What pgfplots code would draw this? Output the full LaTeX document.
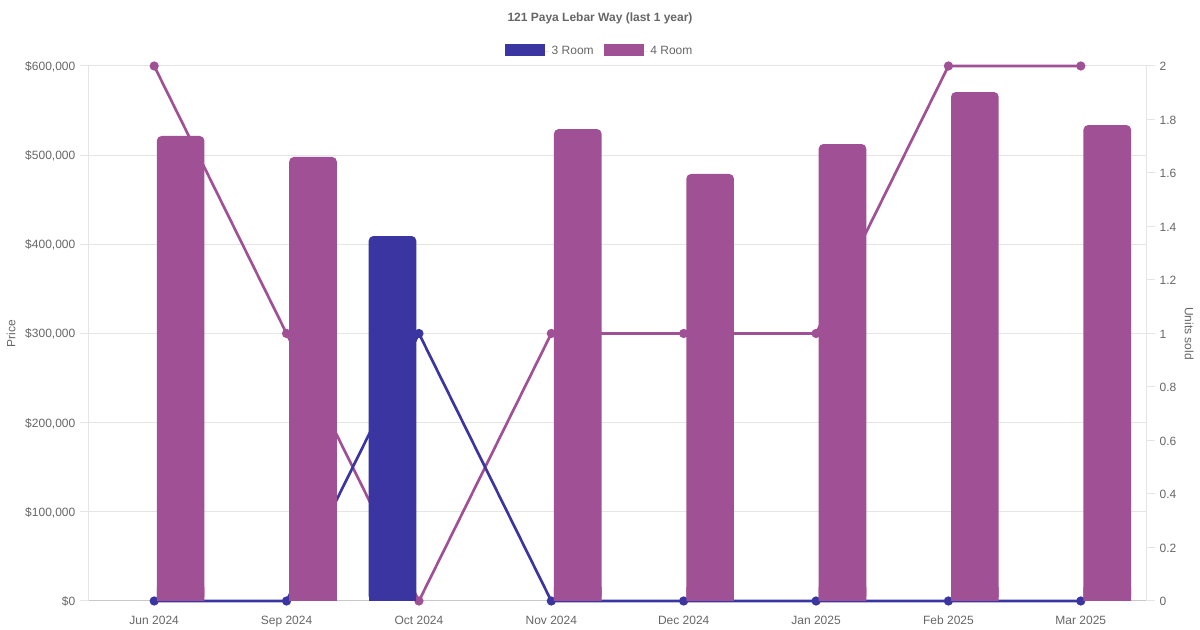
\documentclass[border=0pt]{standalone}
\usepackage{pgfplots}
\pgfplotsset{compat=1.18}
\usepackage{fontspec}
\setmainfont{Liberation Sans}
\definecolor{cA}{RGB}{58,53,160}
\definecolor{cB}{RGB}{160,80,148}
\definecolor{ctext}{RGB}{102,102,102}
\definecolor{cgrid}{RGB}{229,229,229}
\definecolor{cbase}{RGB}{200,200,200}
\pgfplotstableread{
x y
2 409300
}\roomthree
\pgfplotstableread{
x y
0 521500
1 498000
3 529300
4 478900
5 512500
6 570800
7 533800
}\roomfour
\pgfplotstableread{
x three four
0 0 2
1 0 1
2 1 0
3 0 1
4 0 1
5 0 1
6 0 2
7 0 2
}\units
\pgfplotsset{
  base/.style={
    scale only axis, width=794.25pt, height=401.25pt,
    at={(66pt,21.75pt)}, anchor=south west,
    xmin=-0.5, xmax=7.5,
    /pgf/number format/assume math mode=true,
    tick label style={font=\fontsize{9}{11}\selectfont, text=ctext},
    label style={font=\fontsize{9}{11}\selectfont, text=ctext},
  }
}
\begin{document}
\begin{tikzpicture}
\path[use as bounding box] (0,0) rectangle (900pt,472.5pt);
\node[font=\bfseries\fontsize{9}{11}\selectfont, text=ctext] at (450pt,459pt) {121 Paya Lebar Way (last 1 year)};
% grid and left axis
\begin{axis}[base,
  ymin=0, ymax=600000,
  axis y line*=left, axis x line*=bottom,
  x axis line style={draw=cbase, line width=0.75pt},
  y axis line style={draw=cgrid, line width=0.75pt},
  xtick={0,...,7},
  xticklabels={Jun 2024,Sep 2024,Oct 2024,Nov 2024,Dec 2024,Jan 2025,Feb 2025,Mar 2025},
  x tick style={draw=none},
  ytick={0,100000,200000,300000,400000,500000,600000},
  yticklabels={{\$0},{\$100,000},{\$200,000},{\$300,000},{\$400,000},{\$500,000},{\$600,000}},
  y tick style={draw=cgrid, line width=0.75pt},
  tick align=outside, major tick length=6pt,
  ymajorgrids, major grid style={draw=cgrid, line width=0.75pt},
  scaled y ticks=false,
  xticklabel style={yshift=-1.5pt},
  yticklabel style={yshift=-0.6pt},
  ylabel={Price},
  ylabel style={at={(axis description cs:-0.0727,0.5)}, anchor=center, rotate=0},
]
\end{axis}
% right axis with lines
\begin{axis}[base,
  ymin=0, ymax=2,
  axis y line*=right, axis x line=none,
  y axis line style={draw=cgrid, line width=0.75pt},
  ytick={0,0.2,0.4,0.6,0.8,1,1.2,1.4,1.6,1.8,2},
  yticklabels={0,0.2,0.4,0.6,0.8,1,1.2,1.4,1.6,1.8,2},
  y tick style={draw=cgrid, line width=0.75pt},
  yticklabel style={yshift=-0.6pt},
  tick align=outside, major tick length=6pt,
  xtick=\empty,
  clip=false,
  ylabel={Units sold},
  ylabel style={at={(axis description cs:1.0397,0.5)}, anchor=center, rotate=180},
]
\addplot[draw=cB, line width=2pt, mark=*, mark size=2.4pt, mark options={fill=cB, draw=cB}] table[x=x, y=four] {\units};
\addplot[draw=cA, line width=2pt, mark=*, mark size=2.4pt, mark options={fill=cA, draw=cA}] table[x=x, y=three] {\units};
\end{axis}
% bars
\begin{axis}[base,
  ymin=0, ymax=600000,
  axis lines=none, xtick=\empty, ytick=\empty,
  ybar=3.97pt, bar width=35.7pt,
  legend style={at={(axis description cs:0.4835,1.027)}, anchor=center, draw=none, fill=none,
    font=\fontsize{9}{11}\selectfont, text=ctext, legend columns=2,
    /tikz/every even column/.append style={column sep=5.5pt}},
  legend image code/.code={\fill[#1, sharp corners] (0pt,-3.5pt) rectangle (30pt,5.5pt); \path (0pt,0pt) -- (33pt,0pt);},
]
\addplot[fill=cA, draw=none, rounded corners=3.5pt] table[x=x,y=y] {\roomthree};
\addlegendentry{3 Room}
\addplot[fill=cB, draw=none, rounded corners=3.5pt] table[x=x,y=y] {\roomfour};
\addlegendentry{4 Room}
\end{axis}
% square off the bar bottoms
\begin{axis}[base, height=10.03125pt,
  ymin=0, ymax=15000, hide axis, clip=true,
  ybar=3.97pt, bar width=35.7pt,
]
\addplot[fill=cA, draw=none] table[x=x,y=y] {\roomthree};
\addplot[fill=cB, draw=none] table[x=x,y=y] {\roomfour};
\end{axis}
\end{tikzpicture}
\end{document}
